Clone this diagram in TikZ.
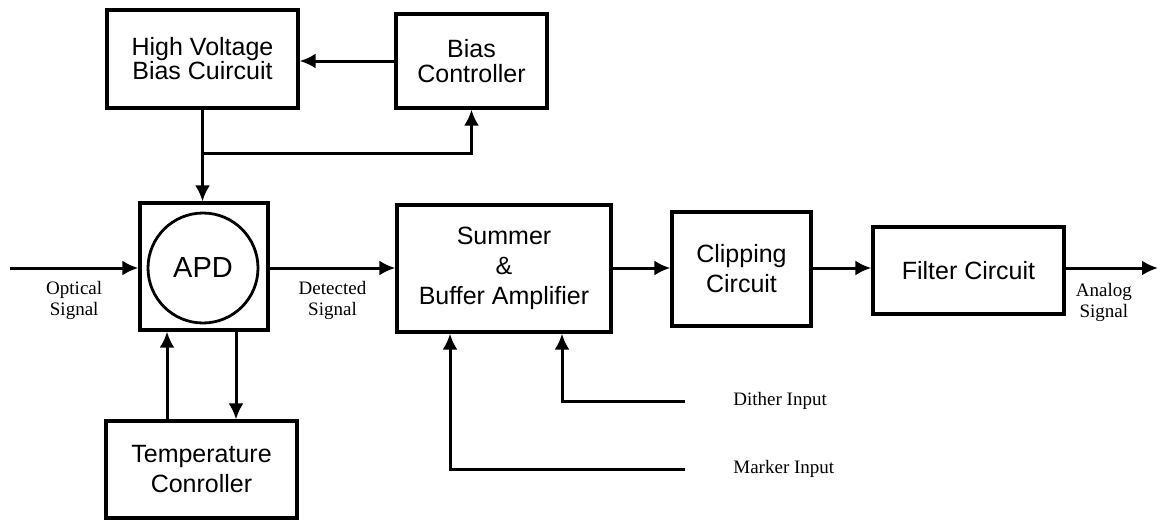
\documentclass[tikz,border=0pt]{standalone}
\usepackage{fontspec}
\setmainfont{Liberation Serif}
\newfontfamily\boxfont{Liberation Sans}
\usetikzlibrary{arrows.meta}
\usetikzlibrary{positioning, math}

\begin{document}
\begin{tikzpicture}[x=0.5pt,y=-0.5pt,
  block/.style={draw, line width=1.6pt, align=center, inner sep=0pt,
    font=\boxfont\fontsize{12.5}{15}\selectfont},
  arr/.style={-{Latex[length=8pt,width=7.5pt]}, line width=1.5pt},
  lbl/.style={align=center, inner sep=2pt, font=\fontsize{9.5}{10.5}\selectfont}]
\tikzmath{
\ysig=268;
}
\useasboundingbox (0,0) rectangle (1160,520);

% blocks
\node[block, minimum width=95.5pt, minimum height=49pt, font=\boxfont\fontsize{12.5}{12}\selectfont] (hv) at (202.5,59) {High Voltage\\Bias Cuircuit};
\node[block, minimum width=75.5pt, minimum height=47pt, font=\boxfont\fontsize{12.5}{12.5}\selectfont] (bias) at (471.5,61) {Bias\\Controller};
\node[block, minimum width=64pt, minimum height=63.5pt] (apd) at (204,266.5) {};
\node[draw, circle, line width=1.4pt, minimum size=55pt, inner sep=0pt, font=\boxfont\fontsize{14.5}{15}\selectfont] (apdc) at (203,\ysig) {APD};
\node[block, minimum width=107pt, minimum height=63.5pt] (summer) at (504,268.5) {Summer\\\&\\Buffer Amplifier};
\node[block, minimum width=69.5pt, minimum height=57pt] (clip) at (741.5,269) {Clipping\\Circuit};
\node[block, minimum width=95.5pt, minimum height=43.5pt] (filter) at (968.5,270.5) {Filter Circuit};
\node[block, minimum width=95.5pt, minimum height=48.5pt] (temp) at (201.5,469.5) {Temperature\\Conroller};

% free ends
\coordinate (optin) at (10,\ysig);
\coordinate (anout) at (1158,\ysig);
\coordinate (split) at (202.5,153);
\coordinate (dither) at (685,401);
\coordinate (marker) at (685,469);

% bias loop
\draw[arr] (bias.west) -- (bias.west -| hv.east);
\draw[line width=1.5pt] (hv.south) -- (split);
\draw[arr] (split) -- (split |- apd.north);
\draw[arr] (split) -| (bias.south);

% signal path
\draw[arr] (optin) -- (optin -| apd.west) node[midway, below=4pt, lbl] {Optical\\Signal};
\draw[arr] (apd.east |- 0,\ysig) -- (summer.west |- 0,\ysig) node[midway, below=4pt, lbl] {Detected\\Signal};
\draw[arr] (summer.east |- 0,\ysig) -- (clip.west |- 0,\ysig);
\draw[arr] (clip.east |- 0,\ysig) -- (filter.west |- 0,\ysig);
\draw[arr] (filter.east |- 0,\ysig) -- (anout) node[midway, below=5pt, xshift=-4pt, lbl] {Analog\\Signal};

% temperature loop
\draw[arr] (temp.north -| 167,0) -- (apd.south -| 167,0);
\draw[arr] (apd.south -| 236,0) -- (temp.north -| 236,0);

% extra inputs
\draw[arr] (dither) -| (summer.south -| 562,0);
\draw[arr] (marker) -| (summer.south -| 450,0);
\node[lbl, inner sep=0pt, right=24pt of dither] (dtxt) {Dither Input};
\node[lbl, inner sep=0pt, right=24pt of marker] (mtxt) {Marker Input};

\end{tikzpicture}
\end{document}
